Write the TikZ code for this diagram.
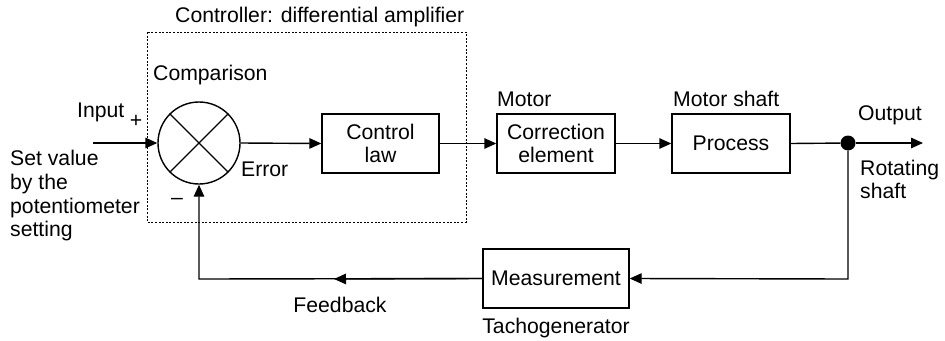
\documentclass[tikz,border=0pt]{standalone}
\usepackage{fontspec}
\setmainfont{Liberation Sans}
\usetikzlibrary{arrows.meta}
\begin{document}
\begin{tikzpicture}[x=1pt,y=-1pt,
  every node/.style={font=\fontsize{21.2}{23.5}\selectfont},
  line/.style={line width=1.4pt},
  arr/.style={line, -{Triangle[length=12pt,width=10.5pt]}},
  blockbox/.style={draw, line width=1.4pt, minimum width=117pt, minimum height=59pt, inner sep=0pt, align=center},
  lbl/.style={anchor=base west, inner sep=0pt},
  lblc/.style={anchor=base, inner sep=0pt}
]
\useasboundingbox (0,0) rectangle (945,340);

% controller dotted frame
\draw[line width=1pt, dash pattern=on 2pt off 1.6pt] (147,32) rectangle (466,222);
\node[lbl] (ctrl) at (175,23) {Controller: differential amplifier};

% comparison
\node[draw, circle, line width=1.4pt, minimum size=82pt, inner sep=0pt] (cmp) at (199,143) {};
\draw[line] (cmp.north west) -- (cmp.south east);
\draw[line] (cmp.north east) -- (cmp.south west);
\node[lbl] (cmpl) at (153,80) {Comparison};

% blocks
\node[blockbox] (law) at (380.5,143.5) {Control\\law};
\node[blockbox, minimum width=118pt] (corr) at (556,143.5) {Correction\\element};
\node[blockbox, minimum width=118pt] (proc) at (731,143.5) {Process};
\node[blockbox, minimum width=146pt] (meas) at (556,278.5) {Measurement};

\node[lbl] (motor) at (497,106) {Motor};
\node[lbl] (mshaft) at (673,106) {Motor shaft};

% junction
\node[circle, fill=black, minimum size=15pt, inner sep=0pt] (jn) at (848,143) {};
\coordinate (outp) at (923,143);
\coordinate (inp) at (93,143);
\coordinate (mcorner) at (848,279);
\coordinate (fbcorner) at (199,279);
\coordinate (fbarrow) at (334,279);

% connectors
\draw[arr] (inp) -- (cmp.west);
\draw[arr] (cmp.east) -- (law.west);
\draw[arr] (law.east) -- (corr.west);
\draw[arr] (corr.east) -- (proc.west);
\draw[line] (proc.east) -- (jn);
\draw[arr] (jn) -- (outp);
\draw[arr] (jn) -- (mcorner) -- (meas.east);
\draw[arr] (meas.west) -- (fbarrow);
\draw[arr] (meas.west) -- (fbcorner) -- (cmp.south);

% labels
\node[lbl] (inl) at (77,117) {Input};
\node[inner sep=0pt] (plus) at (136,121) {+};
\node[inner sep=0pt] (minus) at (177,201) {\textendash};
\node[lbl] (err) at (241,176) {Error};
\node[lbl] (s1) at (10,165) {Set value};
\node[lbl] (s2) at (10,189) {by the};
\node[lbl] (s3) at (10,213) {potentiometer};
\node[lbl] (s4) at (10,236) {setting};
\node[lbl] (outl) at (858,120) {Output};
\node[lbl] (r1) at (860,175) {Rotating};
\node[lbl] (r2) at (860,198) {shaft};
\node[lblc] (fb) at (340,312) {Feedback};
\node[lblc] (tacho) at (556,333) {Tachogenerator};
\end{tikzpicture}
\end{document}
